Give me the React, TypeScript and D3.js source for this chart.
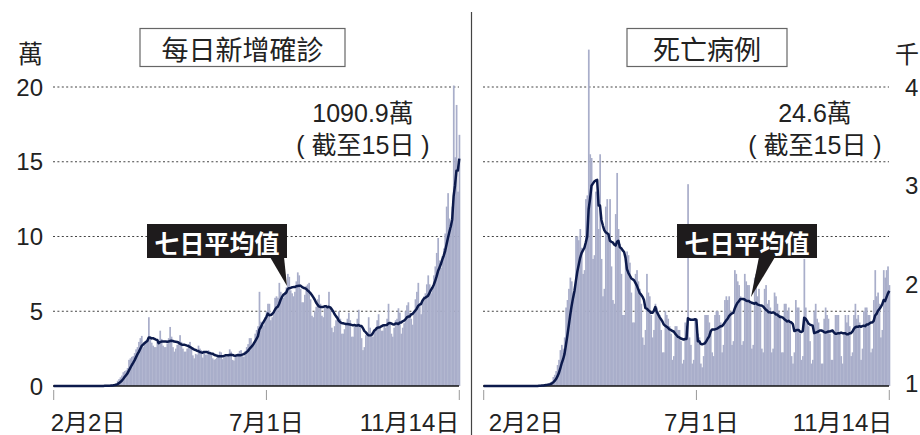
import React from "react";
import * as d3 from "d3";

// US daily figures, one row per week (Sun–Sat), from 2月2日 to 11月14日
// new cases, in 萬 (10k)
const casesDaily: number[] = [
  0, 0, 0, 0, 0, 0, 0,
  0, 0, 0, 0, 0, 0, 0,
  0, 0, 0, 0, 0, 0, 0,
  0, 0, 0, 0, 0, 0, 0,
  0, 0, 0, 0, 0.01, 0.01, 0.01,
  0.01, 0.02, 0.03, 0.03, 0.04, 0.06, 0.08,
  0.09, 0.12, 0.16, 0.35, 0.46, 0.58, 0.7,
  0.92, 1.0, 1.05, 1.2, 1.75, 1.85, 1.95,
  2.0, 2.2, 2.45, 2.6, 2.95, 3.2, 3.35,
  2.6, 2.9, 3.0, 3.1, 4.6, 3.2, 2.9,
  2.7, 2.6, 2.6, 2.95, 3.1, 3.7, 3.15,
  2.7, 2.6, 2.6, 2.85, 3.2, 3.95, 3.3,
  2.6, 2.3, 2.5, 2.75, 2.95, 3.4, 2.95,
  2.5, 2.3, 2.3, 2.5, 2.8, 2.95, 2.6,
  2.05, 1.85, 2.15, 2.1, 2.7, 2.5, 2.4,
  1.9, 2.2, 2.1, 2.1, 2.4, 2.3, 2.2,
  1.85, 1.75, 1.8, 1.9, 2.1, 2.3, 2.25,
  1.8, 1.95, 2.05, 1.95, 2.1, 2.45, 2.3,
  1.75, 1.7, 1.95, 2.1, 2.2, 2.35, 2.4,
  2.0, 1.95, 2.35, 2.6, 2.8, 3.2, 3.2,
  2.7, 2.95, 3.5, 3.75, 4.0, 6.3, 4.3,
  4.15, 4.05, 4.6, 5.0, 5.5, 5.5, 4.4,
  4.6, 4.8, 5.9, 6.0, 5.9, 6.9, 6.3,
  5.9, 5.9, 6.3, 6.6, 7.5, 7.3, 6.4,
  6.2, 6.0, 6.3, 7.0, 7.6, 7.4, 6.5,
  5.6, 5.6, 6.1, 6.7, 6.8, 6.9, 5.8,
  4.7, 4.6, 5.0, 5.3, 5.8, 6.1, 5.5,
  4.7, 4.6, 5.3, 5.4, 5.3, 6.3, 5.2,
  3.9, 3.6, 4.0, 4.4, 4.5, 5.0, 4.5,
  3.5, 3.5, 3.8, 4.2, 4.5, 4.9, 4.4,
  3.3, 3.3, 3.95, 4.0, 4.5, 5.1, 4.0,
  3.2, 2.4, 2.6, 3.4, 3.6, 4.6, 3.9,
  3.3, 3.3, 3.8, 3.9, 4.4, 4.8, 4.0,
  3.7, 3.7, 4.0, 3.9, 4.5, 5.5, 4.2,
  3.5, 3.3, 3.9, 4.4, 4.5, 5.2, 4.9,
  3.5, 3.9, 4.2, 5.0, 5.4, 5.6, 4.9,
  4.5, 4.1, 5.0, 5.8, 6.3, 6.9, 5.5,
  4.8, 5.6, 6.0, 6.2, 6.8, 7.4, 6.8,
  6.2, 6.6, 7.4, 8.0, 8.9, 9.9, 8.4,
  7.9, 8.7, 9.2, 10.2, 12.0, 12.9, 11.2,
  10.5, 12.0, 20.1, 15.3, 18.8, 13.0, 16.8,
];

// deaths, in 千
const deathsDaily: number[] = [
  0, 0, 0, 0, 0, 0, 0,
  0, 0, 0, 0, 0, 0, 0,
  0, 0, 0, 0, 0, 0, 0,
  0, 0, 0, 0, 0, 0, 0,
  0, 0, 0, 0, 0, 0, 0,
  0, 0, 0, 0.01, 0.01, 0.01, 0.01,
  0.01, 0.02, 0.02, 0.03, 0.04, 0.05, 0.06,
  0.12, 0.15, 0.2, 0.28, 0.35, 0.48, 0.55,
  0.5, 0.65, 1.05, 1.15, 1.3, 1.45, 1.4,
  1.25, 1.3, 2.0, 2.0, 1.95, 2.1, 1.85,
  1.5, 1.55, 2.5, 2.55, 4.5, 3.1, 3.05,
  1.7, 1.75, 2.6, 2.6, 2.1, 3.1, 1.7,
  1.2, 1.3, 2.4, 2.5, 2.0, 2.5, 1.6,
  1.15, 1.1, 2.3, 2.85, 2.1, 1.9, 1.5,
  0.95, 0.95, 1.75, 1.8, 1.75, 1.65, 1.25,
  0.85, 0.85, 1.5, 1.55, 1.4, 1.3, 1.1,
  0.65, 0.55, 0.75, 1.5, 1.25, 1.2, 0.95,
  0.65, 0.75, 1.1, 1.05, 1.0, 0.95, 0.75,
  0.45, 0.45, 1.0, 0.95, 0.9, 0.8, 0.7,
  0.35, 0.4, 0.8, 0.8, 0.75, 0.75, 0.6,
  0.3, 0.35, 0.85, 0.8, 2.7, 0.65, 0.55,
  0.3, 0.35, 0.9, 0.75, 0.7, 0.65, 0.3,
  0.25, 0.4, 0.95, 0.95, 0.95, 0.85, 0.75,
  0.45, 0.4, 0.95, 1.0, 1.0, 0.95, 0.85,
  0.45, 0.55, 1.15, 1.2, 1.15, 1.2, 1.0,
  0.55, 0.6, 1.55, 1.5, 1.4, 1.35, 1.2,
  0.55, 0.6, 1.5, 1.4, 1.35, 1.35, 1.1,
  0.5, 0.55, 1.45, 1.5, 1.2, 1.3, 1.05,
  0.5, 0.45, 1.3, 1.35, 1.1, 1.15, 1.05,
  0.45, 0.5, 1.25, 1.2, 1.1, 1.0, 0.95,
  0.45, 0.45, 1.1, 1.1, 1.0, 1.05, 0.85,
  0.4, 0.3, 0.45, 1.15, 1.05, 1.05, 0.7,
  0.35, 0.4, 1.7, 1.05, 0.85, 0.8, 0.6,
  0.3, 0.35, 1.0, 1.1, 0.9, 0.85, 0.7,
  0.3, 0.3, 0.9, 1.05, 0.95, 0.9, 0.7,
  0.35, 0.35, 0.7, 0.95, 0.95, 0.95, 0.7,
  0.4, 0.3, 0.7, 0.95, 0.85, 0.95, 0.8,
  0.4, 0.45, 0.95, 1.1, 0.9, 0.95, 0.85,
  0.35, 0.5, 1.0, 1.05, 1.05, 0.95, 0.95,
  0.45, 0.5, 1.15, 1.55, 1.2, 1.25, 1.1,
  0.65, 0.75, 1.55, 1.45, 1.55, 1.6, 1.35,
];

const tickDays = [0, 150, 286];
const tickLabels = ["2月2日", "7月1日", "11月14日"];
const caseTicks = [0, 5, 10, 15, 20];
const deathGrid = [1, 2, 3, 4];
const deathLabels = [4, 3, 2, 1];

const SANS = "'Liberation Sans', Arial, 'Noto Sans CJK TC', sans-serif";
const CJK = "'Noto Sans CJK TC', 'Noto Sans CJK JP', sans-serif";
const BAR = "#a9aeca";
const LINE = "#0c1a4c";
const Y0 = 386;
const YTOP = 87;

// trailing 7-day mean
const avg7 = (arr: number[]) =>
  arr.map((_, i) => d3.mean(arr.slice(Math.max(0, i - 6), i + 1)) as number);

type PanelProps = {
  daily: number[];
  x0: number;
  x1: number;
  yMax: number;
  grid: number[];
  title: string;
  boxX: number;
  boxW: number;
  total: string;
  noteX: number;
  tagX: number;
  pointer: [number, number][];
  labelShift: number[];
};

function Panel(p: PanelProps) {
  const x = d3
    .scaleBand<number>()
    .domain(d3.range(p.daily.length))
    .range([p.x0, p.x1])
    .padding(0);
  const bw = x.bandwidth();
  const y = d3.scaleLinear().domain([0, p.yMax]).range([Y0, YTOP]);
  const mean = avg7(p.daily);
  const line = d3
    .line<number>()
    .x((_, i) => (x(i) as number) + bw / 2)
    .y((d) => y(d));
  const gx0 = p.x0;
  const gx1 = p.x1 - 1;

  return (
    <g>
      {/* title */}
      <rect x={p.boxX} y={28.5} width={p.boxW} height={38} fill="#fff" stroke="#666" strokeWidth={1.2} />
      <text x={p.boxX + p.boxW / 2} y={48} textAnchor="middle" dominantBaseline="central"
        fontFamily={CJK} fontSize={27} fill="#222">{p.title}</text>

      {/* grid */}
      {p.grid.map((t) => (
        <line key={t} x1={gx0} x2={gx1} y1={y(t)} y2={y(t)} stroke="#444" strokeWidth={1} strokeDasharray="2 2.4" />
      ))}

      {/* bars */}
      {p.daily.map((d, i) => (
        <rect key={i} x={x(i)} width={bw + 0.3} y={y(d)} height={Y0 - y(d)} fill={BAR} />
      ))}

      {/* baseline & ticks */}
      <line x1={gx0} x2={gx1} y1={Y0} y2={Y0} stroke="#111" strokeWidth={1.6} />
      {tickDays.map((d, i) => {
        const tx = (x(d) as number) + bw / 2;
        const anchor = i === 0 ? "start" : i === 1 ? "middle" : "end";
        return (
          <g key={d}>
            <line x1={tx} x2={tx} y1={390} y2={400} stroke="#999" strokeWidth={1} />
            <text x={tx + p.labelShift[i]} y={422} textAnchor={anchor} dominantBaseline="central"
              fontFamily={SANS} fontSize={24} fill="#222">{tickLabels[i]}</text>
          </g>
        );
      })}

      {/* 7-day mean */}
      <path d={line(mean) ?? ""} fill="none" stroke={LINE} strokeWidth={2.5} strokeLinejoin="round" />

      {/* total note */}
      <text x={p.noteX} y={113} textAnchor="middle" dominantBaseline="central" fontFamily={SANS} fontSize={25} fill="#222">
        {p.total}
      </text>
      <text x={p.noteX} y={145} textAnchor="middle" dominantBaseline="central" fontFamily={SANS} fontSize={25} fill="#222">
        ( 截至15日 )
      </text>

      {/* tag */}
      <path d={d3.line()(p.pointer) + "Z"} fill="#1e1b1c" />
      <rect x={p.tagX} y={224} width={140} height={34} fill="#1e1b1c" />
      <text x={p.tagX + 70} y={241.5} textAnchor="middle" dominantBaseline="central"
        fontFamily={CJK} fontWeight={700} fontSize={25} fill="#fff">七日平均值</text>
    </g>
  );
}

export default function App() {
  const yCases = d3.scaleLinear().domain([0, 20]).range([Y0, YTOP]);
  // right-hand labels are spread over the full height
  const yDeathLabel = d3.scaleLinear().domain([1, 4]).range([383, YTOP]);

  return (
    <svg width={920} height={435} style={{ position: "absolute", left: 0, top: 0, background: "#fff" }}>
      <rect width={920} height={435} fill="#fff" />

      <Panel
        daily={casesDaily} x0={53} x1={460} yMax={20} grid={[5, 10, 15, 20]}
        title="每日新增確診" boxX={140} boxW={205}
        total="1090.9萬" noteX={363} tagX={147}
        pointer={[[270, 257], [284, 257], [287, 286]]}
        labelShift={[-3, 0, 0]}
      />
      <Panel
        daily={deathsDaily} x0={483} x1={890} yMax={4} grid={deathGrid}
        title="死亡病例" boxX={627} boxW={160}
        total="24.6萬" noteX={815} tagX={677}
        pointer={[[759, 257], [775, 257], [751, 297]]}
        labelShift={[5, 5, 3]}
      />

      {/* left axis */}
      <text x={18} y={52} dominantBaseline="central" fontFamily={CJK} fontSize={25} fill="#222">萬</text>
      {caseTicks.map((t) => (
        <text key={t} x={43} y={yCases(t)} textAnchor="end" dominantBaseline="central"
          fontFamily={SANS} fontSize={24} fill="#222">{t}</text>
      ))}

      {/* right axis */}
      <text x={895} y={52} dominantBaseline="central" fontFamily={CJK} fontSize={24} fill="#222">千</text>
      {deathLabels.map((t) => (
        <text key={t} x={905} y={yDeathLabel(t)} dominantBaseline="central"
          fontFamily={SANS} fontSize={24} fill="#222">{t}</text>
      ))}

      {/* divider */}
      <line x1={471.5} x2={471.5} y1={12} y2={435} stroke="#444" strokeWidth={1.2} />
    </svg>
  );
}
